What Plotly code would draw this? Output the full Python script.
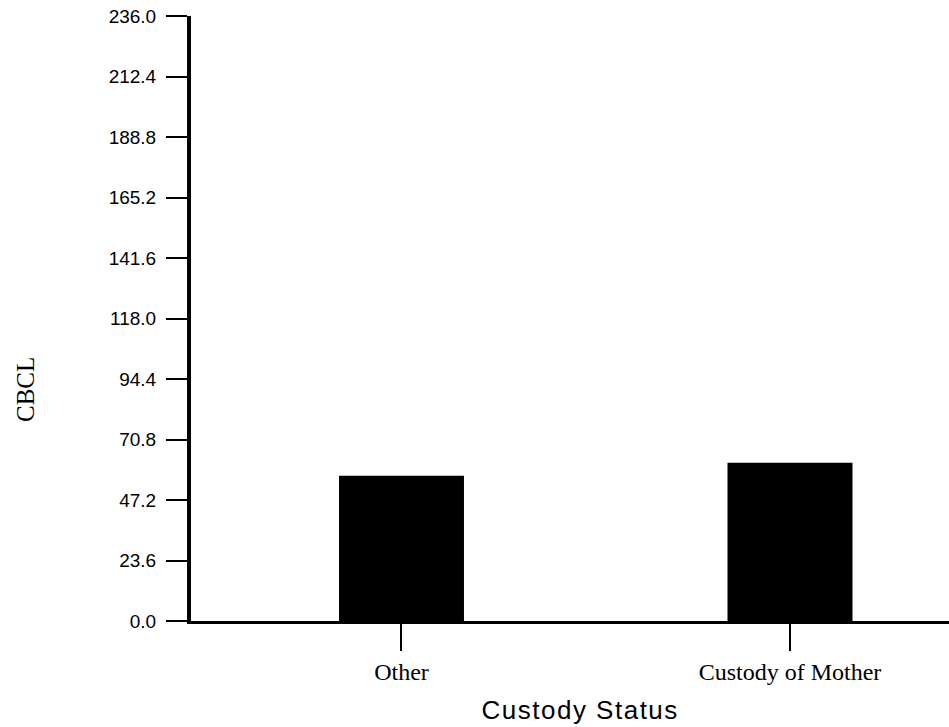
import plotly.graph_objects as go

categories = ["Other", "Custody of Mother"]
cbcl_values = [56.7, 61.7]
y_ticks = [0.0, 23.6, 47.2, 70.8, 94.4, 118.0, 141.6, 165.2, 188.8, 212.4, 236.0]
y_tick_labels = [f"{v:.1f}" for v in y_ticks]

W, H = 949, 727
L, R, T, B = 191, 0, 16, 106

positions = list(range(len(categories)))

fig = go.Figure(
    go.Bar(
        x=positions,
        y=cbcl_values,
        width=0.3217,
        marker=dict(color="black", line=dict(width=0)),
        hoverinfo="skip",
    )
)

fig.update_layout(
    width=W,
    height=H,
    margin=dict(l=L, r=R, t=T, b=B),
    paper_bgcolor="white",
    plot_bgcolor="white",
    showlegend=False,
    xaxis=dict(
        range=[-0.5418, 1.4093],
        tickvals=positions,
        ticktext=categories,
        showgrid=False,
        zeroline=False,
        showline=True,
        linecolor="black",
        linewidth=3,
        ticks="outside",
        ticklen=27,
        tickwidth=2,
        tickcolor="black",
        ticklabelstandoff=0,
        tickfont=dict(family="Liberation Serif", size=24, color="black"),
    ),
    yaxis=dict(
        range=[0, 236],
        tickvals=y_ticks,
        ticktext=y_tick_labels,
        showgrid=False,
        zeroline=False,
        showline=True,
        linecolor="black",
        linewidth=4,
        ticks="outside",
        ticklen=21,
        tickwidth=1.5,
        tickcolor="black",
        ticklabelstandoff=6,
        tickfont=dict(family="Liberation Sans", size=19, color="black"),
    ),
    annotations=[
        dict(
            text="Custody Status",
            xref="paper", yref="paper",
            x=(580 - L) / (W - L - R), y=-(710 - (H - B)) / (H - T - B),
            xanchor="center", yanchor="middle",
            showarrow=False,
            font=dict(family="Liberation Sans", size=26, color="black"),
        ),
        dict(
            text="CBCL",
            xref="paper", yref="paper",
            x=(25 - L) / (W - L - R), y=1 - (390 - T) / (H - T - B),
            xanchor="center", yanchor="middle",
            textangle=-90,
            showarrow=False,
            font=dict(family="Liberation Serif", size=25, color="black"),
        ),
    ],
)

# Slightly open up the letter spacing of the horizontal axis title.
spacing_css = """
var s = document.createElement('style');
s.textContent = '.annotation[data-index="0"] text { letter-spacing: 1.5px; }';
document.head.appendChild(s);
"""

fig.write_html("out.html", post_script=spacing_css)
